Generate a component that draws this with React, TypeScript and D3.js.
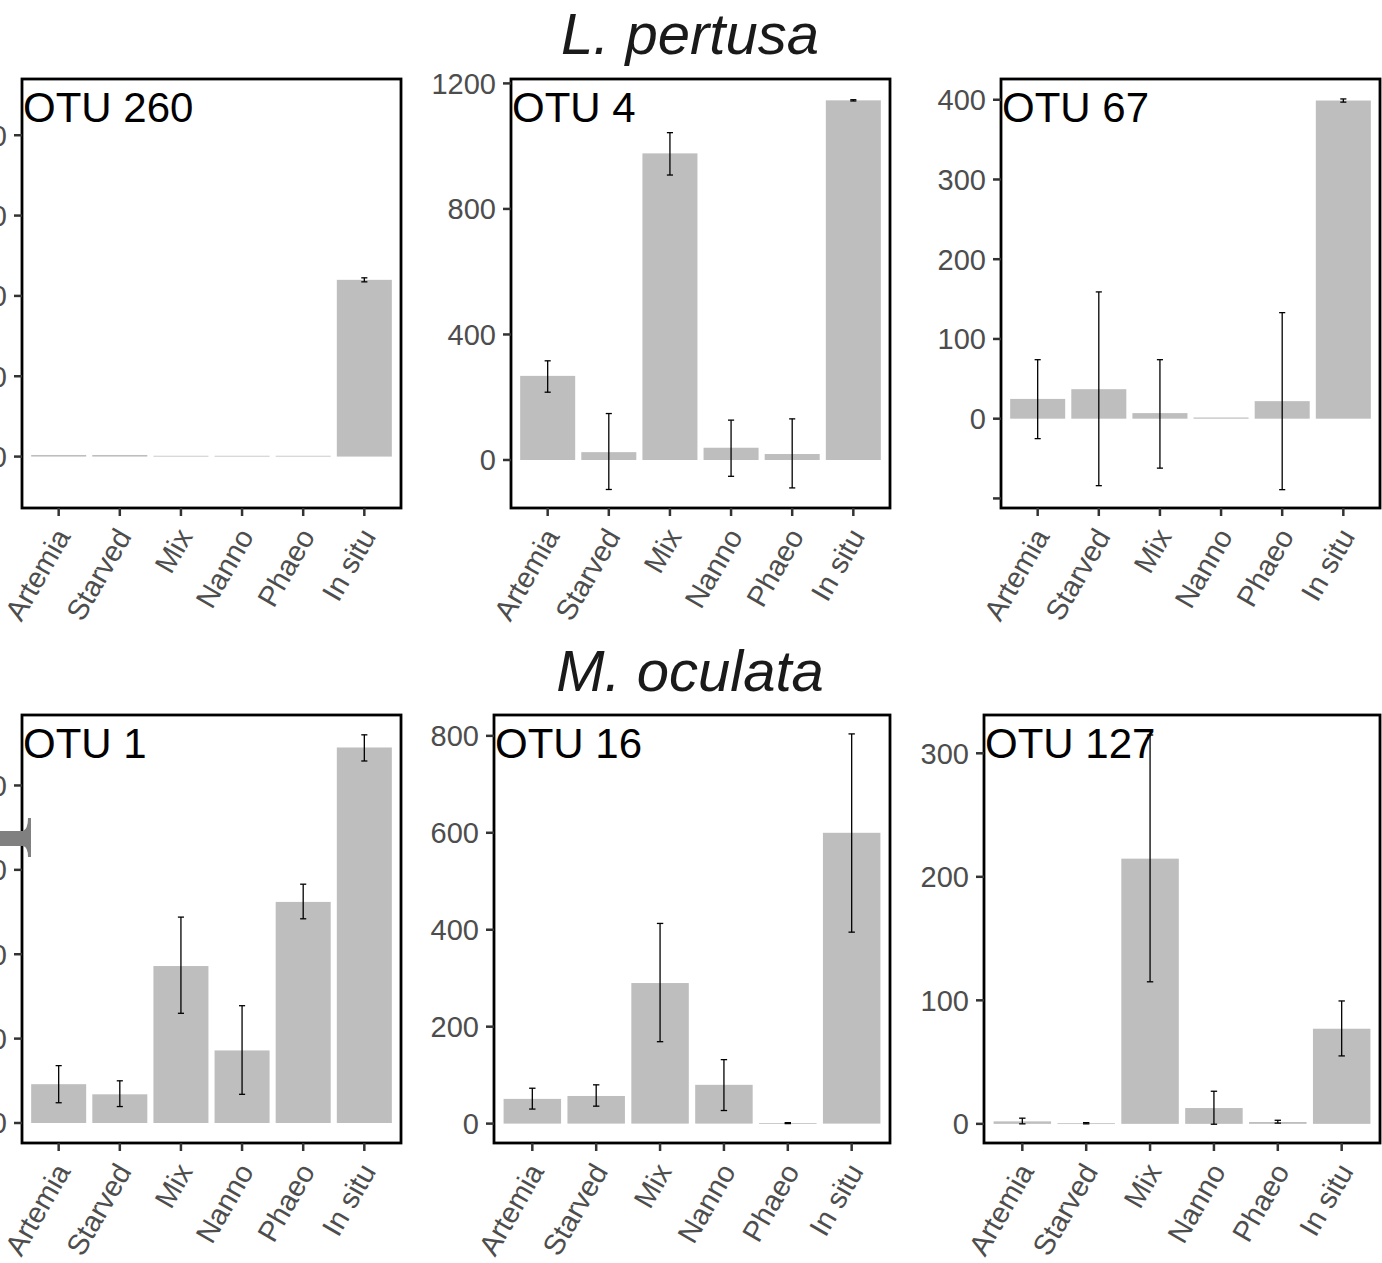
import React from "react";
import * as d3 from "d3";

const categories = ["Artemia", "Starved", "Mix", "Nanno", "Phaeo", "In situ"];

const speciesTitles = ["L. pertusa", "M. oculata"];
const otuNames = ["OTU 260", "OTU 4", "OTU 67", "OTU 1", "OTU 16", "OTU 127"];

// OTU 260 (L. pertusa)
const otu260Mean = [2, 2, 1, 1, 1, 220];
const otu260Lo = [2, 2, 1, 1, 1, 217.5];
const otu260Hi = [2, 2, 1, 1, 1, 222.5];
const otu260Ticks = [0, 100, 200, 300, 400];
const otu260Domain = [-64, 470];

// OTU 4 (L. pertusa)
const otu4Mean = [268, 25, 977, 39, 19, 1146];
const otu4Lo = [216, -94, 908, -52, -89, 1144];
const otu4Hi = [316, 148, 1043, 127, 131, 1148];
const otu4Ticks = [0, 400, 800, 1200];
const otu4Domain = [-153, 1214];

// OTU 67 (L. pertusa)
const otu67Mean = [24.8, 37, 7, 1.5, 22, 399];
const otu67Lo = [-25, -84, -62, 1.5, -89, 397];
const otu67Hi = [74, 159, 74, 1.5, 133, 401];
const otu67Ticks = [-100, 0, 100, 200, 300, 400];
const otu67TickLabels = ["", "0", "100", "200", "300", "400"];
const otu67Domain = [-112, 426];

// OTU 1 (M. oculata)
const otu1Mean = [46, 34, 186, 86, 262, 445];
const otu1Lo = [24, 19.5, 130, 34, 242, 429];
const otu1Hi = [68, 50, 244, 139, 283, 460];
const otu1Ticks = [0, 100, 200, 300, 400];
const otu1Domain = [-23.7, 483.5];

// OTU 16 (M. oculata)
const otu16Mean = [51, 57, 290, 80, 1, 600];
const otu16Lo = [30, 36, 169, 27, 0, 395];
const otu16Hi = [73, 80, 413, 132, 2, 804];
const otu16Ticks = [0, 200, 400, 600, 800];
const otu16Domain = [-40, 843];

// OTU 127 (M. oculata)
const otu127Mean = [2, 0.5, 214.7, 12.8, 1.5, 77];
const otu127Lo = [0, 0, 115, -0.3, 0.6, 55];
const otu127Hi = [4.6, 1, 314.8, 26.4, 2.9, 99.5];
const otu127Ticks = [0, 100, 200, 300];
const otu127Domain = [-15.5, 331];

const FONT = "'Liberation Sans', Arial, Helvetica, sans-serif";

type Panel = {
  name: string;
  mean: number[];
  lo: number[];
  hi: number[];
  ticks: number[];
  tickLabels?: string[];
  domain: number[];
  x0: number;
  x1: number;
  y0: number;
  y1: number;
};

const panels: Panel[] = [
  { name: otuNames[0], mean: otu260Mean, lo: otu260Lo, hi: otu260Hi, ticks: otu260Ticks, domain: otu260Domain, x0: 22, x1: 401, y0: 79, y1: 508 },
  { name: otuNames[1], mean: otu4Mean, lo: otu4Lo, hi: otu4Hi, ticks: otu4Ticks, domain: otu4Domain, x0: 511, x1: 890, y0: 79, y1: 508 },
  { name: otuNames[2], mean: otu67Mean, lo: otu67Lo, hi: otu67Hi, ticks: otu67Ticks, tickLabels: otu67TickLabels, domain: otu67Domain, x0: 1001, x1: 1380, y0: 79, y1: 508 },
  { name: otuNames[3], mean: otu1Mean, lo: otu1Lo, hi: otu1Hi, ticks: otu1Ticks, domain: otu1Domain, x0: 22, x1: 401, y0: 715, y1: 1143 },
  { name: otuNames[4], mean: otu16Mean, lo: otu16Lo, hi: otu16Hi, ticks: otu16Ticks, domain: otu16Domain, x0: 494, x1: 890, y0: 715, y1: 1143 },
  { name: otuNames[5], mean: otu127Mean, lo: otu127Lo, hi: otu127Hi, ticks: otu127Ticks, domain: otu127Domain, x0: 984, x1: 1380, y0: 715, y1: 1143 },
];

function PanelView({ p }: { p: Panel }) {
  const x = d3
    .scaleBand<string>()
    .domain(categories)
    .range([p.x0, p.x1])
    .paddingInner(0.1)
    .paddingOuter(0.15);
  const y = d3.scaleLinear().domain(p.domain).range([p.y1, p.y0]);
  const step = x.step();
  const bw = x.bandwidth();
  const capW = step * 0.1;
  const tickLen = 8;
  return (
    <g>
      {categories.map((c, i) => {
        const v = p.mean[i];
        const top = y(Math.max(v, 0));
        const bot = y(Math.min(v, 0));
        return (
          <rect key={"b" + c} x={x(c)} y={top} width={bw} height={Math.max(bot - top, 0.8)} fill="#bebebe" />
        );
      })}
      {categories.map((c, i) => {
        if (p.hi[i] === p.lo[i]) return null;
        const cx = (x(c) as number) + bw / 2;
        const yl = y(p.lo[i]);
        const yh = y(p.hi[i]);
        return (
          <g key={"e" + c} stroke="#000" strokeWidth={1.3} fill="none">
            <line x1={cx} x2={cx} y1={yl} y2={yh} />
            <line x1={cx - capW / 2} x2={cx + capW / 2} y1={yl} y2={yl} />
            <line x1={cx - capW / 2} x2={cx + capW / 2} y1={yh} y2={yh} />
          </g>
        );
      })}
      <rect x={p.x0} y={p.y0} width={p.x1 - p.x0} height={p.y1 - p.y0} fill="none" stroke="#000" strokeWidth={2.8} />
      {p.ticks.map((t, i) => (
        <g key={"yt" + t}>
          <line x1={p.x0 - tickLen} x2={p.x0} y1={y(t)} y2={y(t)} stroke="#333" strokeWidth={2.5} />
          <text
            x={p.x0 - tickLen - 7}
            y={y(t)}
            dy="0.36em"
            textAnchor="end"
            fontFamily={FONT}
            fontSize={29}
            fill="#4d4d4d"
          >
            {p.tickLabels ? p.tickLabels[i] : String(t)}
          </text>
        </g>
      ))}
      {categories.map((c) => {
        const cx = (x(c) as number) + bw / 2;
        const ay = p.y1 + tickLen + 13;
        return (
          <g key={"xt" + c}>
            <line x1={cx} x2={cx} y1={p.y1} y2={p.y1 + tickLen} stroke="#333" strokeWidth={2.5} />
            <text
              x={cx}
              y={ay}
              dy="0.5em"
              textAnchor="end"
              fontFamily={FONT}
              fontSize={29}
              fill="#4d4d4d"
              transform={`rotate(-60, ${cx}, ${ay})`}
            >
              {c}
            </text>
          </g>
        );
      })}
      <text x={p.x0 + 1} y={p.y0 + 43} fontFamily={FONT} fontSize={42} fill="#000">
        {p.name}
      </text>
    </g>
  );
}

export default function App() {
  return (
    <svg
      width={1382}
      height={1263}
      style={{ position: "absolute", left: 0, top: 0, background: "#fff" }}
    >
      <rect x={0} y={0} width={1382} height={1263} fill="#fff" />
      <text x={690} y={54} textAnchor="middle" fontFamily={FONT} fontStyle="italic" fontSize={58} fill="#1a1a1a">
        {speciesTitles[0]}
      </text>
      <text x={690} y={691} textAnchor="middle" fontFamily={FONT} fontStyle="italic" fontSize={58} fill="#1a1a1a">
        {speciesTitles[1]}
      </text>
      {panels.map((p) => (
        <PanelView key={p.name} p={p} />
      ))}
      <path d="M0,831 H23 Q28,829 28,818 H31 V857 H28 Q28,847 23,846 H0 Z" fill="#808080" />
    </svg>
  );
}
